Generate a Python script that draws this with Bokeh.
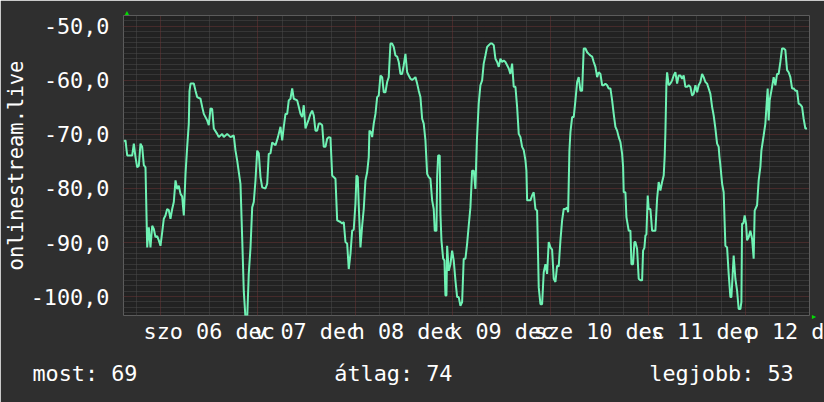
from bokeh.plotting import figure
from bokeh.models import Range1d, FixedTicker, Grid, Title, CustomJSTickFormatter
from bokeh.embed import file_html
from bokeh.resources import INLINE

# ---- data: hours since 5 Dec 00:00, signal in dBm ----
hours = [
    15.05, 15.41, 15.83, 17.06, 17.46, 17.87, 18.29, 18.69, 19.10, 19.52, 19.92, 20.33,
    20.75, 21.15, 21.56, 21.98, 22.38, 22.79, 23.21, 23.61, 24.02, 24.44, 24.84, 25.25,
    25.67, 26.07, 26.48, 26.90, 27.30, 27.72, 28.13, 28.53, 28.95, 29.36, 29.76, 30.18,
    30.59, 30.99, 31.16, 31.41, 32.22, 32.64, 33.05, 33.87, 34.28, 34.68, 35.51, 35.91,
    36.33, 36.74, 37.14, 37.97, 38.37, 39.20, 39.60, 40.43, 41.25, 42.06, 42.48, 42.89,
    43.71, 44.12, 44.52, 44.94, 45.36, 45.75, 46.17, 46.59, 46.98, 47.40, 47.82, 48.21,
    48.63, 49.05, 49.86, 50.28, 50.67, 51.09, 51.51, 52.32, 52.93, 53.55, 53.97, 54.36,
    54.78, 55.20, 55.59, 56.01, 56.43, 56.82, 57.66, 58.05, 58.47, 58.89, 59.28, 59.70,
    60.12, 60.51, 60.93, 61.35, 61.74, 62.16, 62.58, 62.97, 63.39, 63.81, 64.20, 64.62,
    65.04, 65.43, 65.85, 66.27, 67.08, 67.50, 68.31, 68.73, 69.12, 69.54, 69.96, 70.35,
    70.77, 71.19, 71.58, 72.00, 72.25, 72.57, 72.81, 73.23, 73.65, 74.04, 74.46, 74.88,
    75.27, 75.44, 75.86, 76.11, 76.50, 76.92, 77.34, 77.73, 78.15, 78.57, 78.96, 79.38,
    79.80, 80.19, 80.61, 81.03, 81.42, 81.84, 82.26, 82.65, 83.07, 83.49, 83.88, 84.30,
    84.72, 85.11, 85.53, 85.95, 86.34, 86.76, 87.18, 87.57, 87.99, 88.41, 88.80, 89.22,
    89.64, 90.03, 90.45, 90.87, 91.26, 91.51, 91.93, 92.10, 92.35, 92.74, 92.91, 93.16,
    93.58, 93.90, 94.14, 94.39, 94.56, 94.95, 95.37, 95.79, 96.18, 96.60, 97.02, 97.41,
    97.83, 98.25, 98.64, 99.06, 99.48, 99.87, 100.29, 100.71, 101.10, 101.52, 101.70, 101.89,
    102.33, 102.75, 103.17, 103.56, 103.98, 104.40, 104.80, 105.21, 105.63, 106.03, 106.44, 106.86,
    107.26, 107.67, 108.09, 108.49, 108.90, 109.32, 109.72, 110.13, 110.55, 110.95, 111.37, 111.78,
    112.18, 112.60, 113.01, 113.41, 113.83, 114.07, 114.24, 115.06, 115.47, 115.87, 116.29, 116.70,
    117.10, 117.52, 117.93, 118.33, 118.75, 119.16, 119.56, 119.98, 120.39, 120.79, 121.21, 121.62,
    122.02, 122.44, 122.85, 123.25, 123.67, 124.09, 124.33, 124.48, 124.65, 124.90, 125.32, 125.71,
    126.13, 126.55, 126.94, 127.36, 127.78, 128.17, 128.59, 129.01, 129.40, 129.82, 130.24, 130.63,
    131.05, 131.47, 131.86, 132.28, 132.70, 133.09, 133.51, 133.93, 134.32, 134.74, 135.16, 135.55,
    135.97, 136.39, 136.78, 137.20, 137.62, 137.86, 138.01, 138.43, 138.68, 139.24, 139.66, 139.91,
    140.32, 140.64, 140.89, 141.31, 141.70, 142.12, 142.54, 142.78, 143.10, 143.35, 143.60, 143.92,
    144.16, 144.58, 145.00, 145.81, 146.23, 146.62, 147.04, 147.46, 147.85, 148.10, 148.27, 148.52,
    148.69, 149.08, 149.50, 149.92, 150.31, 150.73, 151.15, 151.54, 151.96, 152.38, 152.77, 153.19,
    153.61, 154.00, 154.42, 154.84, 155.23, 155.65, 156.07, 156.46, 156.88, 157.30, 157.69, 158.11,
    158.53, 158.92, 159.34, 159.76, 160.15, 160.57, 160.99, 161.38, 161.55, 161.80, 162.22, 162.61,
    163.03, 163.45, 163.84, 164.26, 164.51, 164.83, 165.07, 165.49, 165.91, 166.30, 166.72, 166.97,
    167.14, 167.46, 167.78, 168.12, 168.37, 168.76, 169.18, 169.60, 169.99, 170.24, 170.83, 171.22,
    171.64, 171.89, 172.45, 172.87, 173.29, 173.44, 173.68, 173.93, 174.52, 174.91, 175.33, 175.75,
    176.14, 176.56, 176.98, 177.37, 177.79, 178.21, 178.60, 179.02, 179.44, 179.83, 180.25, 180.67,
    181.06, 181.48, 181.90, 182.29, 182.71, 183.13,
]

signal = [
    -71.3, -71.1, -73.9, -73.9, -71.7, -74.2, -76.1, -75.8, -71.7, -72.3, -75.7, -76.1,
    -90.9, -87.2, -90.9, -86.9, -87.5, -89.0, -88.8, -89.6, -90.6, -88.1, -85.6, -85.0,
    -83.8, -84.0, -85.6, -83.8, -82.5, -78.5, -80.1, -79.5, -81.0, -81.5, -85.0, -77.3,
    -72.3, -68.0, -62.0, -60.6, -60.6, -61.9, -63.1, -63.4, -64.9, -66.2, -67.4, -68.3,
    -65.2, -65.3, -68.9, -69.9, -70.5, -69.9, -70.5, -69.9, -70.5, -70.2, -73.0, -74.8,
    -79.2, -89.0, -99.0, -104.0, -104.0, -95.7, -91.0, -83.5, -82.5, -78.5, -73.0, -73.5,
    -77.9, -79.8, -80.0, -79.1, -73.6, -73.5, -71.5, -72.0, -70.5, -68.6, -71.1, -68.6,
    -66.2, -66.2, -63.7, -63.4, -61.5, -63.4, -63.7, -64.9, -66.2, -66.8, -64.6, -68.9,
    -68.0, -67.2, -66.2, -65.6, -66.5, -69.3, -69.3, -68.0, -68.0, -68.3, -72.3, -72.3,
    -70.8, -70.5, -70.6, -77.6, -78.2, -85.9, -86.2, -86.5, -86.2, -89.9, -90.2, -94.9,
    -92.1, -87.8, -87.6, -82.8, -77.6, -77.9, -83.1, -90.9, -86.9, -83.8, -78.5, -77.0,
    -74.2, -69.3, -69.6, -70.5, -68.0, -66.2, -63.1, -62.8, -59.1, -59.4, -62.2, -62.2,
    -60.3, -59.4, -53.2, -53.2, -53.8, -55.4, -55.6, -56.6, -58.8, -58.8, -57.2, -55.1,
    -58.5, -59.1, -59.7, -59.9, -59.7, -59.4, -60.6, -61.9, -63.1, -67.1, -68.0, -71.1,
    -77.3, -77.9, -78.2, -82.2, -83.8, -87.8, -87.8, -77.9, -73.9, -73.9, -84.7, -89.6,
    -93.0, -93.3, -99.8, -99.8, -90.6, -95.2, -94.0, -91.5, -93.3, -97.0, -100.1, -100.1,
    -101.7, -101.0, -93.0, -93.0, -90.2, -86.9, -83.5, -76.7, -76.7, -80.1, -75.4, -71.0,
    -64.3, -60.9, -60.0, -56.9, -55.4, -53.8, -53.5, -53.2, -53.2, -53.5, -56.0, -56.6,
    -57.5, -56.0, -56.6, -56.3, -56.6, -57.2, -57.8, -58.8, -56.9, -61.2, -61.2, -64.9,
    -69.9, -70.5, -72.3, -72.9, -74.8, -76.7, -82.2, -82.2, -81.3, -80.7, -83.8, -84.1,
    -98.3, -101.4, -101.4, -95.5, -94.0, -95.8, -89.9, -90.9, -91.3, -96.7, -97.3, -94.3,
    -94.4, -89.6, -85.9, -83.8, -83.8, -83.5, -84.4, -79.1, -73.0, -69.6, -66.8, -66.8,
    -63.7, -60.3, -59.4, -61.9, -61.9, -54.1, -54.1, -54.8, -55.1, -55.4, -55.6, -56.6,
    -57.5, -59.4, -58.5, -58.8, -60.9, -60.9, -60.6, -60.9, -61.5, -61.5, -63.7, -66.2,
    -68.6, -69.3, -70.5, -71.4, -73.6, -76.0, -80.7, -80.7, -85.3, -87.8, -87.8, -94.0,
    -94.0, -89.9, -89.9, -91.2, -96.7, -97.0, -97.0, -91.5, -91.0, -88.7, -88.5, -81.3,
    -83.8, -83.8, -87.8, -87.8, -81.9, -78.8, -80.4, -78.8, -77.6, -74.0, -69.6, -60.6,
    -58.5, -60.9, -60.6, -60.0, -59.1, -58.5, -60.6, -59.1, -59.1, -59.7, -59.1, -61.2,
    -61.2, -60.9, -61.2, -62.8, -62.5, -60.9, -62.2, -60.9, -60.3, -58.8, -59.4, -60.3,
    -60.6, -61.5, -62.5, -64.9, -66.5, -68.9, -71.7, -72.3, -74.0, -75.7, -79.1, -80.7,
    -90.6, -90.9, -95.8, -100.1, -100.1, -95.8, -92.4, -96.7, -98.9, -102.3, -102.3, -101.0,
    -86.5, -86.5, -85.0, -86.5, -89.6, -89.0, -87.8, -89.3, -93.0, -84.1, -83.1, -78.5,
    -76.0, -73.0, -70.2, -68.0, -63.1, -61.5, -67.4, -63.7, -61.2, -59.4, -60.9, -58.8,
    -58.8, -56.6, -54.1, -54.1, -54.4, -58.1, -58.5, -59.4, -61.5, -61.5, -61.9, -61.9,
    -64.3, -64.5, -64.9, -67.1, -68.9, -68.9,
]

day_ticks = [36, 60, 84, 108, 132, 156, 180]          # noon of each day
day_labels = ["szo 06 dec", "v 07 dec", "h 08 dec", "k 09 dec",
              "sze 10 dec", "cs 11 dec", "p 12 d"]
midnights = [24, 48, 72, 96, 120, 144, 168]
six_hours = [h for h in range(18, 184, 6) if h % 24 != 0]
y_ticks = [-100, -90, -80, -70, -60, -50]
y_minor = [v for v in range(-103, -48) if v % 10 != 0]

series_name = "onlinestream.live"
legend_items = ["most: 69", "átlag: 74", "legjobb: 53"]
legend_gap = "\u00a0" * 15

FONT = "DejaVu Sans Mono"
FS = "21.8px"
BG = "#2f2f2f"
PLOT_BG = "#222222"
TXT = "#ffffff"
LINE = "#6ff2b4"
MINOR = "#4a4a4a"
MAJOR = "#6b3434"
ARROW = "#00dd00"

p = figure(frame_width=686, frame_height=300, output_backend="svg",
           toolbar_location=None, title=None,
           x_range=Range1d(14.92, 183.73), y_range=Range1d(-103.5, -48.0),
           min_border_left=123, min_border_right=15, min_border_top=15,
           min_border_bottom=87)
p.background_fill_color = PLOT_BG
p.border_fill_color = BG
p.outline_line_color = None
p.grid.visible = False

for ax in (p.xaxis[0], p.yaxis[0]):
    ax.axis_line_color = None
    ax.major_tick_line_color = None
    ax.minor_tick_line_color = None
    ax.major_tick_out = 0
    ax.major_tick_in = 0
    ax.minor_tick_out = 0
    ax.minor_tick_in = 0
    ax.major_label_text_font = FONT
    ax.major_label_text_font_size = FS
    ax.major_label_text_color = TXT

p.xaxis.ticker = FixedTicker(ticks=day_ticks)
p.xaxis.major_label_overrides = {t: s for t, s in zip(day_ticks, day_labels)}
p.xaxis.major_label_standoff = 3

p.yaxis.ticker = FixedTicker(ticks=y_ticks)
p.yaxis.formatter = CustomJSTickFormatter(code="return tick.toFixed(1).replace('.', ',');")
p.yaxis.major_label_standoff = 14
p.yaxis.axis_label = series_name
p.yaxis.axis_label_text_font = FONT
p.yaxis.axis_label_text_font_size = "20.5px"
p.yaxis.axis_label_text_font_style = "normal"
p.yaxis.axis_label_text_color = TXT
p.yaxis.axis_label_standoff = 0

# grid lines
p.add_layout(Grid(dimension=0, ticker=FixedTicker(ticks=six_hours),
                  grid_line_color=MINOR, grid_line_dash="1 1", grid_line_width=1))
p.add_layout(Grid(dimension=1, ticker=FixedTicker(ticks=y_minor),
                  grid_line_color=MINOR, grid_line_dash="1 1", grid_line_width=1))
p.add_layout(Grid(dimension=0, ticker=FixedTicker(ticks=midnights),
                  grid_line_color=MAJOR, grid_line_dash="1 1", grid_line_width=1))
p.add_layout(Grid(dimension=1, ticker=FixedTicker(ticks=y_ticks),
                  grid_line_color=MAJOR, grid_line_dash="1 1", grid_line_width=1))

p.line(hours, signal, line_color=LINE, line_width=2)

# legend row below the time axis
p.add_layout(Title(text=legend_gap.join(legend_items), align="left", offset=-91,
                   standoff=25, text_font=FONT, text_font_size=FS,
                   text_font_style="normal", text_color=TXT), "below")

# small axis arrows
p.add_layout(Title(text="▲", align="left", offset=0, standoff=0,
                   text_font_size="7px", text_font_style="normal",
                   text_color=ARROW), "above")
p.add_layout(Title(text="▲", align="right", offset=-5, standoff=3,
                   text_font_size="7px", text_font_style="normal",
                   text_color=ARROW), "right")

open("out.html", "w").write(file_html(p, INLINE))
